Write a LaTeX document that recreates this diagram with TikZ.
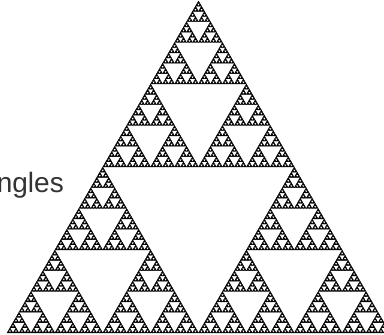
\documentclass[tikz,border=0pt]{standalone}
\usepackage{fontspec}
\setmainfont{Liberation Sans}
\usepackage{tikz}
\definecolor{SpBlack}{RGB}{0,0,0}
\definecolor{SpText}{RGB}{51,51,51}
\tikzset{
  sp/tri/.style={
    fill=SpBlack,
    draw=SpBlack,
    line width=0.3pt,
    line join=round
  },
  sp/label/.style={
    font=\fontsize{28}{32}\selectfont,
    text=SpText,
    inner sep=0pt
  }
}
% one unit triangle, split #1 times
\def\sierp#1{%
  \ifnum#1=0
    \path[sp/tri] (0,0) -- (1,0) -- (0.5,1) -- cycle;
  \else
    \begin{scope}[scale=0.5]\expandafter\sierp\expandafter{\the\numexpr#1-1\relax}\end{scope}
    \begin{scope}[shift={(0.5,0)},scale=0.5]\expandafter\sierp\expandafter{\the\numexpr#1-1\relax}\end{scope}
    \begin{scope}[shift={(0.25,0.5)},scale=0.5]\expandafter\sierp\expandafter{\the\numexpr#1-1\relax}\end{scope}
  \fi}

\begin{document}
\begin{tikzpicture}[x=1pt,y=1pt]
  \useasboundingbox (0,0) rectangle (384,335);
  \node[sp/label,anchor=base east] (lbl) at (64,142) {ngles};
  \begin{scope}[shift={(7,2)},x=383pt,y=332pt]
    \sierp{7}
  \end{scope}
\end{tikzpicture}
\end{document}
